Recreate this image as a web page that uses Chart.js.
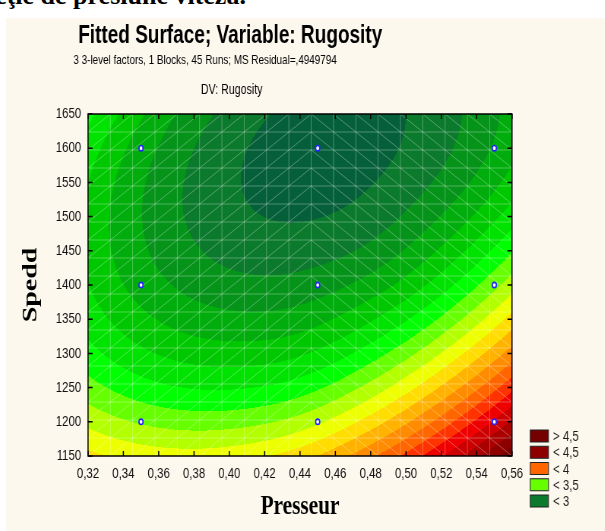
<!DOCTYPE html>
<html>
<head>
<meta charset="utf-8">
<script src="https://cdn.jsdelivr.net/npm/chart.js@4.4.1/dist/chart.umd.min.js"></script>
<style>
  html, body { margin: 0; padding: 0; width: 605px; height: 531px; overflow: hidden; background: #fff; }
  #head { position: absolute; left: -210px; top: -19px; font: bold 26px "Liberation Serif", serif; color: #000; white-space: nowrap; }
  #panel { position: absolute; left: 6px; top: 18px; width: 599px; height: 513px; background: #fcf8ee; overflow: hidden; }
  #wrap { width: 788px; height: 513px; transform: scaleX(0.76); transform-origin: 0 0; }
</style>
</head>
<body>
<div id="head">Rugozitatea în funcţie de presiune viteză.</div>
<div id="panel"><div id="wrap"><canvas id="surf" width="788" height="513"></canvas></div></div>
<script>
// fitted rugosity on a coarse grid (rows follow spedd, columns follow presseur)
const presseur = [0.32, 0.36, 0.40, 0.44, 0.48, 0.52, 0.56];
const spedd = [1150, 1250, 1350, 1450, 1550, 1650];
const rugosity = [
  [3.692, 3.624, 3.631, 3.715, 3.900, 4.160, 4.480],
  [3.451, 3.350, 3.325, 3.376, 3.530, 3.760, 4.060],
  [3.297, 3.163, 3.106, 3.124, 3.240, 3.430, 3.700],
  [3.230, 3.064, 2.974, 2.960, 3.022, 3.180, 3.410],
  [3.251, 3.052, 2.930, 2.883, 2.913, 3.019, 3.200],
  [3.359, 3.128, 2.973, 2.894, 2.891, 2.964, 3.113],
];

// contour levels and the fill of each band between them
const levels = [2.917, 3.000, 3.083, 3.167, 3.250, 3.333, 3.417, 3.500, 3.583, 3.667,
                3.750, 3.833, 3.917, 4.000, 4.083, 4.167, 4.250, 4.333, 4.417];
const bandColors = ['#05603a', '#0b7a2c', '#05931a', '#00ad0c', '#00c800', '#00e200', '#00ff00',
                    '#66ff00', '#b3ff00', '#eeff00', '#ffdd00', '#ffb300', '#ff8c00', '#ff6600',
                    '#ff3300', '#ee0000', '#cc0000', '#aa0000', '#8e0000', '#750000'];

// design runs
const runPresseur = [0.35, 0.45, 0.55];
const runSpedd = [1200, 1400, 1600];

const xTicks = [0.32, 0.34, 0.36, 0.38, 0.40, 0.42, 0.44, 0.46, 0.48, 0.50, 0.52, 0.54, 0.56];
const yTicks = [1150, 1200, 1250, 1300, 1350, 1400, 1450, 1500, 1550, 1600, 1650];

const legendLabels = ['> 4,5', '< 4,5', '< 4', '< 3,5', '< 3'];
const legendColors = ['#750000', '#8e0000', '#ff6600', '#66ff00', '#0b7a2c'];

const SANS = '"Liberation Sans", Arial, sans-serif';
const SERIF = '"Liberation Serif", "Times New Roman", serif';

// ── INTERPOLATION ────────────────────────────────────────────
function catmull(p0, p1, p2, p3, t) {
  return 0.5 * (2 * p1 + (p2 - p0) * t + (2 * p0 - 5 * p1 + 4 * p2 - p3) * t * t +
    (3 * p1 - p0 - 3 * p2 + p3) * t * t * t);
}

function sample(vals, axis, v) {
  const n = axis.length;
  let i = 0;
  while (i < n - 2 && v > axis[i + 1]) i++;
  const t = (v - axis[i]) / (axis[i + 1] - axis[i]);
  const at = k => k < 0 ? 3 * vals[0] - 3 * vals[1] + vals[2]
    : k >= n ? 3 * vals[n - 1] - 3 * vals[n - 2] + vals[n - 3] : vals[k];
  return catmull(at(i - 1), at(i), at(i + 1), at(i + 2), t);
}

// ── SURFACE, MESH AND FRAME ──────────────────────────────────
const surfacePlugin = {
  id: 'surface',
  beforeDatasetsDraw(chart) {
    const { ctx, chartArea: a, scales: { x, y } } = chart;
    const left = Math.round(a.left), top = Math.round(a.top);
    const w = Math.round(a.right) - left, h = Math.round(a.bottom) - top;
    const rgb = bandColors.map(c => [1, 3, 5].map(o => parseInt(c.slice(o, o + 2), 16)));

    const rows = rugosity.map(r => {
      const out = new Float64Array(w);
      for (let i = 0; i < w; i++) out[i] = sample(r, presseur, x.getValueForPixel(left + i + 0.5));
      return out;
    });

    const img = ctx.createImageData(w, h);
    for (let j = 0; j < h; j++) {
      const sv = y.getValueForPixel(top + j + 0.5);
      const wts = spedd.map((_, k) => sample(spedd.map((__, m) => (m === k ? 1 : 0)), spedd, sv));
      for (let i = 0; i < w; i++) {
        let z = 0;
        for (let k = 0; k < rows.length; k++) z += wts[k] * rows[k][i];
        let b = 0;
        while (b < levels.length && z >= levels[b]) b++;
        const c = rgb[b], p = (j * w + i) * 4;
        img.data[p] = c[0]; img.data[p + 1] = c[1]; img.data[p + 2] = c[2]; img.data[p + 3] = 255;
      }
    }
    ctx.putImageData(img, left, top);

    // triangulated mesh, 19 x 19 cells
    const n = 19;
    const gx = i => x.getPixelForValue(x.min + (x.max - x.min) * i / n);
    const gy = j => y.getPixelForValue(y.min + (y.max - y.min) * j / n);
    ctx.save();
    ctx.beginPath();
    ctx.rect(a.left, a.top, a.width, a.height);
    ctx.clip();
    ctx.strokeStyle = 'rgba(255,255,255,0.3)';
    ctx.lineWidth = 1;
    ctx.beginPath();
    for (let i = 1; i < n; i++) { ctx.moveTo(gx(i), a.top); ctx.lineTo(gx(i), a.bottom); }
    for (let j = 1; j < n; j++) { ctx.moveTo(a.left, gy(j)); ctx.lineTo(a.right, gy(j)); }
    for (let i = 0; i < n; i++) {
      for (let j = 0; j < n; j++) {
        if (i < 10) { ctx.moveTo(gx(i), gy(j)); ctx.lineTo(gx(i + 1), gy(j + 1)); }
        else { ctx.moveTo(gx(i), gy(j + 1)); ctx.lineTo(gx(i + 1), gy(j)); }
      }
    }
    ctx.stroke();
    ctx.restore();

    // frame with inward ticks
    ctx.save();
    ctx.strokeStyle = '#000';
    ctx.lineWidth = 1.5;
    ctx.strokeRect(a.left, a.top, a.width, a.height);
    ctx.beginPath();
    xTicks.forEach(v => {
      const px = x.getPixelForValue(v);
      ctx.moveTo(px, a.bottom); ctx.lineTo(px, a.bottom - 5);
      ctx.moveTo(px, a.top); ctx.lineTo(px, a.top + 5);
    });
    yTicks.forEach(v => {
      const py = y.getPixelForValue(v);
      ctx.moveTo(a.left, py); ctx.lineTo(a.left + 6, py);
      ctx.moveTo(a.right, py); ctx.lineTo(a.right - 6, py);
    });
    ctx.stroke();
    ctx.restore();
  },

  afterDraw(chart) {
    const { ctx, chartArea: a } = chart;
    ctx.save();
    ctx.fillStyle = '#000';
    ctx.textAlign = 'center';
    ctx.textBaseline = 'alphabetic';
    ctx.font = 'bold 25px ' + SANS;
    ctx.fillText('Fitted Surface; Variable: Rugosity', 295, 25);
    ctx.font = '13px ' + SANS;
    ctx.fillText('3 3-level factors, 1 Blocks, 45 Runs; MS Residual=,4949794', 262, 46);
    ctx.font = '14px ' + SANS;
    ctx.fillText('DV: Rugosity', 297, 76);

    // legend
    ctx.font = '15px ' + SANS;
    ctx.textAlign = 'left';
    ctx.textBaseline = 'middle';
    legendLabels.forEach((lbl, i) => {
      const cy = a.bottom - 20 + i * 16.25;
      ctx.fillStyle = legendColors[i];
      ctx.fillRect(a.left + a.width + 24, cy - 6, 24, 12);
      ctx.strokeStyle = '#222';
      ctx.lineWidth = 1;
      ctx.strokeRect(a.left + a.width + 24, cy - 6, 24, 12);
      ctx.fillStyle = '#1a1a1a';
      ctx.fillText(lbl, a.left + a.width + 54, cy + 1);
    });
    ctx.restore();
  },
};

const runs = [];
runPresseur.forEach(px => runSpedd.forEach(sv => runs.push({ x: px, y: sv })));

new Chart(document.getElementById('surf'), {
  type: 'scatter',
  data: {
    datasets: [{
      label: 'Runs',
      data: runs,
      pointRadius: 2.7,
      pointBorderWidth: 1.7,
      pointBorderColor: '#2424ff',
      pointBackgroundColor: '#ffffff',
    }],
  },
  options: {
    responsive: false,
    animation: false,
    devicePixelRatio: 1,
    layout: { padding: { left: 0, right: 122.2, top: 96, bottom: 0 } },
    plugins: { legend: { display: false }, tooltip: { enabled: false } },
    scales: {
      x: {
        type: 'linear', min: 0.32, max: 0.56,
        afterFit: s => { s.height = 75; },
        afterBuildTicks: s => { s.ticks = xTicks.map(v => ({ value: v })); },
        ticks: {
          padding: 9, color: '#111', autoSkip: false, maxRotation: 0,
          font: { family: SANS, size: 15 },
          callback: v => v.toFixed(2).replace('.', ','),
        },
        grid: { display: false, drawTicks: false },
        border: { display: false },
        title: {
          display: true, text: 'Presseur', color: '#000',
          font: { family: SERIF, size: 28, weight: 'bold' },
          padding: { top: 0, bottom: 7 },
        },
      },
      y: {
        type: 'linear', min: 1150, max: 1650,
        afterFit: s => { s.width = 107.9; },
        afterBuildTicks: s => { s.ticks = yTicks.map(v => ({ value: v })); },
        ticks: {
          padding: 9, color: '#111', autoSkip: false,
          font: { family: SANS, size: 15 },
          callback: v => String(v),
        },
        grid: { display: false, drawTicks: false },
        border: { display: false },
        title: {
          display: true, text: 'Spedd', color: '#000',
          font: { family: SERIF, size: 28, weight: 'bold' },
          padding: { top: 16, bottom: 0 },
        },
      },
    },
  },
  plugins: [surfacePlugin],
});
</script>
</body>
</html>
